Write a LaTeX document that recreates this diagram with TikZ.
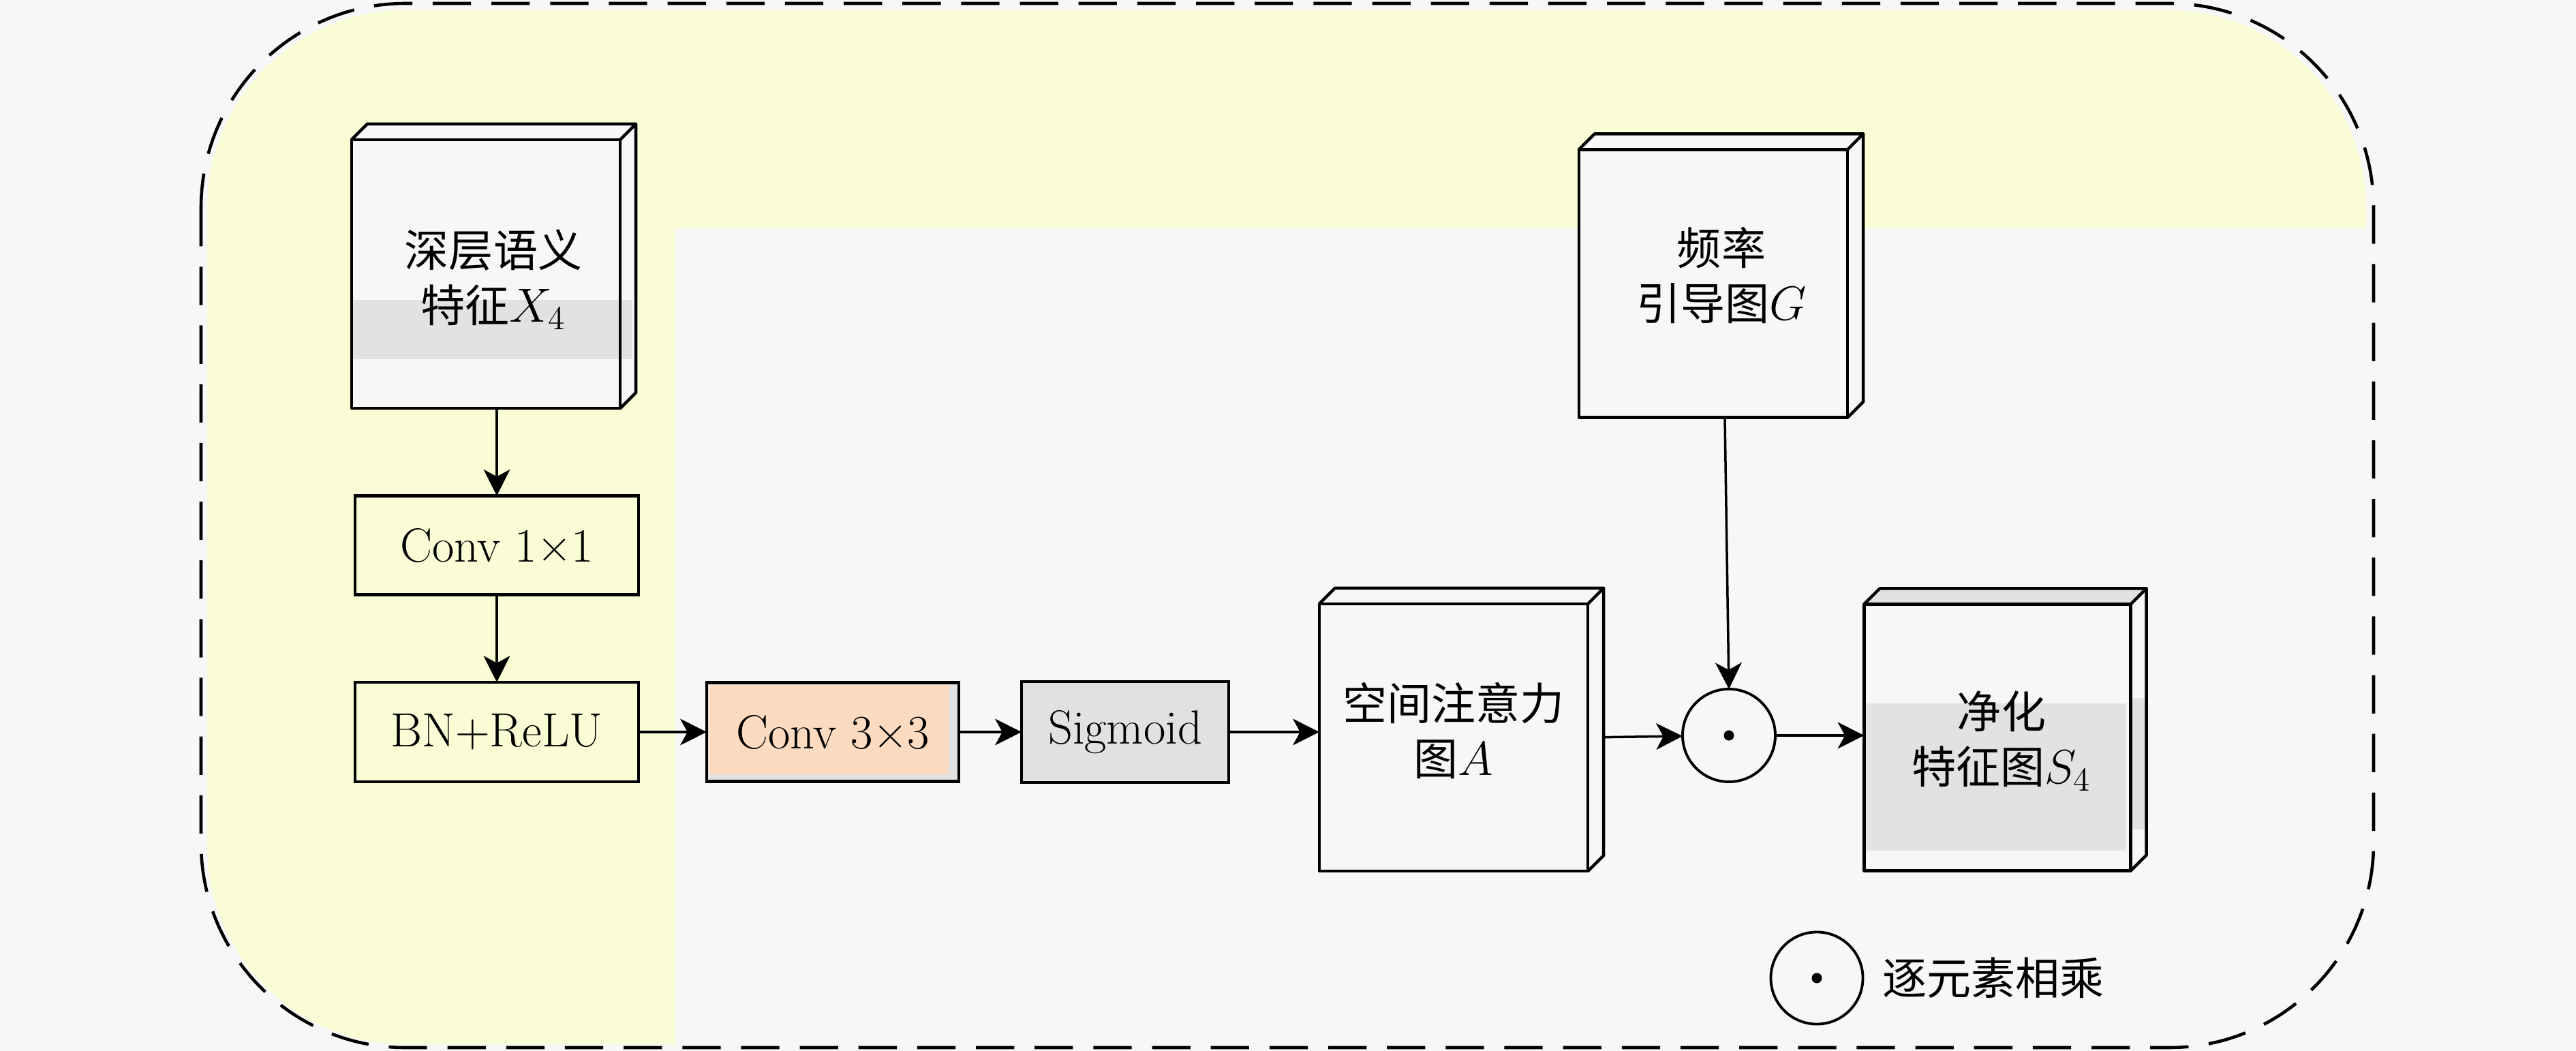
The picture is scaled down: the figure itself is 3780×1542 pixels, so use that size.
\RequirePackage{fix-cm}
\documentclass[tikz,border=0pt]{standalone}
\usepackage{fontspec}
\newfontfamily\cjk[Scale=0.925]{Noto Sans CJK SC}
\usetikzlibrary{arrows.meta,calc}
\definecolor{bgc}{RGB}{247,247,247}
\definecolor{yel}{RGB}{249,252,213}
\definecolor{band}{RGB}{226,226,226}
\definecolor{peach}{RGB}{253,219,192}
\definecolor{sigc}{RGB}{225,225,225}
\newcommand\cubefill[1]{\fill[bgc] (#1.north west) -- ++(23,-23) -- ($(#1.north east)+(23,-23)$) -- ($(#1.south east)+(23,-23)$) -- (#1.south east) -- (#1.north east) -- cycle;}
\newcommand\cubeline[1]{\draw[edge] (#1.north west) -- ++(23,-23) -- ($(#1.north east)+(23,-23)$) -- ($(#1.south east)+(23,-23)$) -- (#1.south east) (#1.north east) -- ++(23,-23);
  \draw[edge] (#1.north west) rectangle (#1.south east);}
\begin{document}
\begin{tikzpicture}[x=0.01cm,y=-0.01cm,
  edge/.style={line width=1.25pt, line join=round},
  txt/.style={font=\fontsize{20pt}{23pt}\selectfont, align=center, inner sep=0pt, outer sep=0pt},
  blk/.style={draw, line width=1.25pt, inner sep=0pt, outer sep=0pt, txt},
  face/.style={fill=bgc, inner sep=0pt, outer sep=0pt, txt},
  conn/.style={line width=1pt, -{Stealth[length=11pt,width=11pt,inset=3pt]}},
  op/.style={circle, draw, line width=1.1pt, fill=bgc, minimum size=1.36cm, inner sep=0pt, outer sep=0pt}]
\useasboundingbox (0,0) rectangle (3780,1542);
\fill[bgc] (0,0) rectangle (3780,1542);
\begin{scope}
  \clip[rounded corners=2.9cm] (304,15) rectangle (3472,1532);
  \fill[yel] (0,0) -- (3780,0) -- (3780,335) -- (991,335) -- (991,1542) -- (0,1542) -- cycle;
\end{scope}
\draw[line width=1.3pt, dash pattern=on 16pt off 8.5pt, rounded corners=3cm] (295,5) rectangle (3483,1537);

% nodes
\node[face, minimum width=3.94cm, minimum height=3.94cm] (x4) at (713,402) {};
\node[blk, fill=yel, minimum width=4.16cm, minimum height=1.45cm] (c1) at (729,800) {Conv 1×1};
\node[blk, fill=yel, minimum width=4.16cm, minimum height=1.46cm] (bn) at (729,1074) {BN+ReLU};
\node[blk, fill=band, minimum width=3.70cm, minimum height=1.45cm] (c3) at (1222,1074) {};
\fill[peach] (1040,1005) rectangle (1392,1136);
\node[txt] (c3t) at (c3) {Conv 3×3};
\node[blk, fill=sigc, minimum width=3.04cm, minimum height=1.48cm] (sg) at (1651,1074) {Sigmoid};
\node[face, minimum width=3.94cm, minimum height=3.92cm] (A) at (2133,1082) {};
\node[face, minimum width=3.94cm, minimum height=3.93cm] (G) at (2514,416) {};
\node[face, minimum width=3.91cm, minimum height=3.91cm] (S4) at (2931,1082) {};
\node[op] (mul) at (2537,1079) {};
\fill (mul.center) circle[radius=0.075cm];

% connectors
\draw[conn] (x4.south -| c1.north) -- (c1.north);
\draw[conn] (c1) -- (bn);
\draw[conn] (bn) -- (c3);
\draw[conn] (c3) -- (sg);
\draw[conn] (sg.east) -- (sg.east -| A.west);
\draw[conn] (A.east) -- (mul);
\draw[conn] ([xshift=0.17cm]G.south) -- (mul.north);
\draw[conn] (mul) -- (mul -| S4.west);

% 3D boxes
\cubefill{x4}
\fill[band] (516,440) rectangle (928,527);
\cubeline{x4}
\node[txt] (x4t) at (724,410) {{\cjk 深层语义}\\{\cjk 特征}$X_4$};

\cubefill{A}
\cubeline{A}
\node[txt] (At) at (2133,1072) {{\cjk 空间注意力}\\{\cjk 图}$A$};

\cubefill{G}
\cubeline{G}
\node[txt] (Gt) at (2526,404) {{\cjk 频率}\\{\cjk 引导图}$G$};

\cubefill{S4}
\fill[band] (S4.north west) -- ++(23,-23) -- ($(S4.north east)+(23,-23)$) -- (S4.north east) -- cycle;
\fill[band] (2738,1032) rectangle (3120,1248);
\fill[band] (3129,1024) rectangle (3148,1217);
\cubeline{S4}
\node[txt] (S4t) at (2937,1087) {{\cjk 净化}\\{\cjk 特征图}$S_4$};

% legend
\node[op, minimum size=1.35cm] (leg) at (2666,1435) {};
\fill (leg.center) circle[radius=0.075cm];
\node[txt, anchor=west] (legt) at (2762,1435) {\cjk 逐元素相乘};
\end{tikzpicture}
\end{document}
